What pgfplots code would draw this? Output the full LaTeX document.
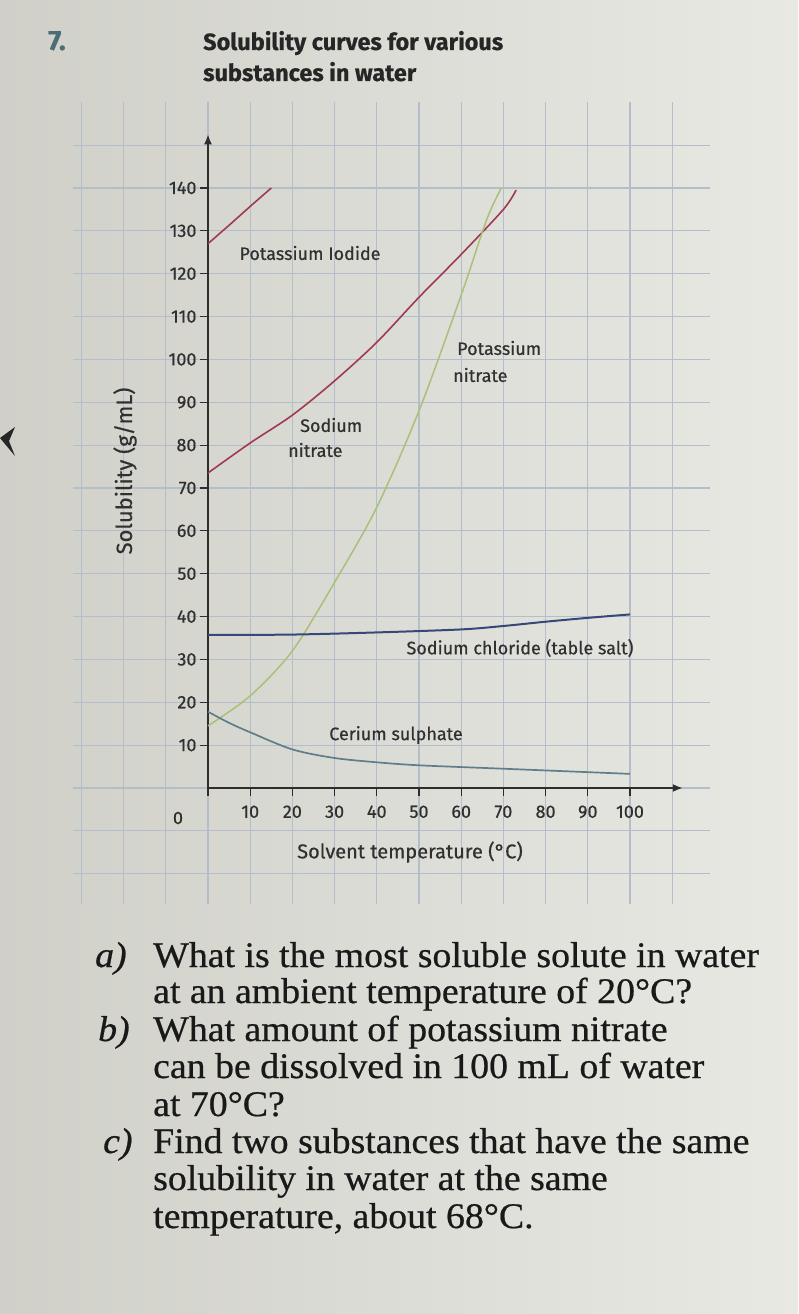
\documentclass[border=0pt]{standalone}
\usepackage{fontspec}
\setmainfont{Liberation Serif}
\newfontfamily\qfont[FakeStretch=1.05,FakeBold=0.6]{Liberation Serif}
\newfontfamily\cf[FakeBold=0.5]{Fira Sans}
\usepackage{pgfplots}
\pgfplotsset{compat=1.18}
\usetikzlibrary{arrows.meta}
\definecolor{bgL}{RGB}{208,208,201}
\definecolor{bgR}{RGB}{233,233,228}
\definecolor{gridc}{RGB}{180,190,202}
\definecolor{axisc}{RGB}{45,45,45}
\definecolor{txt}{RGB}{48,48,48}
\definecolor{redc}{RGB}{160,58,80}
\definecolor{greenc}{RGB}{170,192,120}
\definecolor{bluec}{RGB}{55,72,120}
\definecolor{cerc}{RGB}{95,125,138}
\definecolor{tealc}{RGB}{75,110,118}
\begin{document}
\begin{tikzpicture}[x=1pt,y=1pt]
\shade[left color=bgL,right color=bgR] (0,0) rectangle (798,-1314);
\fill[black!85] (0,-438) -- (15,-427) -- (9,-441) -- (15,-456) -- cycle;
% grid
\begin{axis}[at={(208pt,-788pt)}, anchor=origin, x=4.22pt, y=4.286pt,
  xmin=-32, xmax=119, ymin=-27, ymax=160,
  xtick={-30,-20,...,110}, ytick={-20,-10,...,150},
  grid=major, grid style={draw=gridc, line width=1.1pt},
  axis line style={draw=none}, xticklabels={}, yticklabels={},
  major tick length=0pt]
\end{axis}
% main axis
\begin{axis}[at={(208pt,-788pt)}, anchor=origin, x=4.22pt, y=4.286pt,
  xmin=0, xmax=112.5, ymin=0, ymax=152.5,
  axis lines=left,
  axis line style={line width=1.6pt, draw=axisc, -{Latex[length=10pt,width=8pt]}},
  tick align=outside, major tick length=8pt,
  tick style={line width=1.1pt, draw=axisc},
  xtick={0,10,...,100}, xticklabels={,10,20,30,40,50,60,70,80,90,100},
  ytick={10,20,...,140},
  /pgf/number format/assume math mode=true,
  ticklabel style={font=\cf\fontsize{18}{20}\selectfont, text=txt},
  xticklabel style={yshift=-6pt},
  clip=false]
\addplot[redc, line width=1.6pt] coordinates {(0,127) (5,131.3) (10,135.7) (15,140)};
\addplot[redc, line width=1.6pt, smooth] coordinates {(0,73.5) (10,80.5) (20,87) (30,95) (40,104) (50,114.5) (60,124.5) (70,135) (73,139.5)};
\addplot[greenc, line width=1.5pt, smooth] coordinates {(0,14.5) (10,21.5) (20,32) (30,48) (40,65.5) (50,88) (60,115) (66,132.5) (69.5,140)};
\addplot[bluec, line width=2pt, smooth] coordinates {(0,35.7) (20,35.8) (40,36.3) (60,37) (70,37.8) (80,38.8) (90,39.7) (100,40.5)};
\addplot[cerc, line width=1.7pt, smooth] coordinates {(0,17.8) (5,15.2) (10,13) (20,9) (30,7) (40,6) (50,5.3) (70,4.5) (100,3.3)};
\end{axis}
\begin{scope}[every node/.style={text=txt, font=\cf\fontsize{18}{20}\selectfont, inner sep=0pt}]
\node at (178,-818) {0};
\node[rotate=90, font=\cf\fontsize{22}{24}\selectfont] at (125,-471) {Solubility (g/mL)};
\node[font=\cf\fontsize{20}{22}\selectfont] at (410,-852) {Solvent temperature (°C)};
\node at (310,-253) {Potassium Iodide};
\node[anchor=west] at (457,-348) {Potassium};
\node[anchor=west] at (453,-375) {nitrate};
\node[anchor=west] at (300,-425) {Sodium};
\node[anchor=west] at (288,-450) {nitrate};
\node at (520,-648) {Sodium chloride (table salt)};
\node at (396,-735) {Cerium sulphate};
\end{scope}
\node[anchor=base west, inner sep=0pt, text=black!85, font=\cf\bfseries\fontsize{23.5}{26}\selectfont] at (203,-50) {Solubility curves for various};
\node[anchor=base west, inner sep=0pt, text=black!85, font=\cf\bfseries\fontsize{23.5}{26}\selectfont] at (203,-81) {substances in water};
\node[anchor=base west, inner sep=0pt, text=tealc, font=\cf\bfseries\fontsize{28}{30}\selectfont] at (48,-50) {7.};
\begin{scope}[every node/.style={anchor=base west, inner sep=0pt, text=black!90, font=\qfont\fontsize{36}{38}\selectfont}]
\node at (95,-967) {\itshape a)};
\node at (98,-1041) {\itshape b)};
\node at (103,-1153) {\itshape c)};
\node at (153,-967) {What is the most soluble solute in water};
\node at (153,-1003) {at an ambient temperature of 20°C?};
\node at (153,-1041) {What amount of potassium nitrate};
\node at (153,-1078) {can be dissolved in 100 mL of water};
\node at (153,-1116) {at 70°C?};
\node at (153,-1153) {Find two substances that have the same};
\node at (153,-1190) {solubility in water at the same};
\node at (153,-1228) {temperature, about 68°C.};
\end{scope}
\end{tikzpicture}
\end{document}
